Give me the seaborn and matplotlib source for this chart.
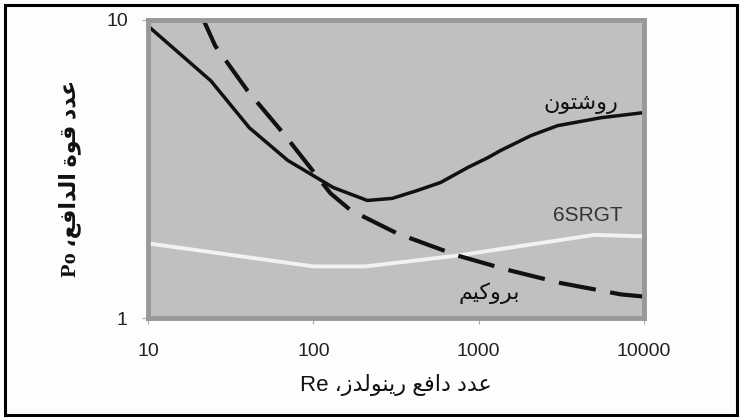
import pandas as pd
import matplotlib.pyplot as plt
import matplotlib.patches as patches
import seaborn as sns

# Power number vs Reynolds number for three impellers
rushton_re = [10, 24, 41, 70, 132, 212, 300, 427, 589, 860, 1135, 1360, 2065, 3000, 5500, 10000]
rushton_po = [9.55, 6.25, 4.35, 3.38, 2.74, 2.48, 2.52, 2.68, 2.85, 3.2, 3.45, 3.65, 4.09, 4.42, 4.70, 4.89]

brookim_re = [21, 25.5, 40, 66, 127, 168, 323, 746, 1500, 3140, 7260, 10000]
brookim_po = [10.4, 8.19, 5.79, 4.16, 2.62, 2.30, 1.92, 1.62, 1.45, 1.31, 1.20, 1.18]

srgt_re = [10, 100, 207, 746, 4980, 10000]
srgt_po = [1.78, 1.49, 1.49, 1.62, 1.90, 1.88]

x_ticks = [10, 100, 1000, 10000]
y_ticks = [1, 10]

label_rushton = "روشتون"
label_brookim = "بروكيم"
label_srgt = "6SRGT"
x_title_ar = "عدد دافع رينولدز،"
y_title_ar = "عدد قوة الدافع،"

# matplotlib has no Arabic shaping, so pick presentation forms by hand
# (isolated, final, initial, medial)
FORMS = {
    'ا': ('\uFE8D', '\uFE8E', None, None),
    'ب': ('\uFE8F', '\uFE90', '\uFE91', '\uFE92'),
    'ة': ('\uFE93', '\uFE94', None, None),
    'ت': ('\uFE95', '\uFE96', '\uFE97', '\uFE98'),
    'د': ('\uFEA9', '\uFEAA', None, None),
    'ر': ('\uFEAD', '\uFEAE', None, None),
    'ز': ('\uFEAF', '\uFEB0', None, None),
    'ش': ('\uFEB5', '\uFEB6', '\uFEB7', '\uFEB8'),
    'ع': ('\uFEC9', '\uFECA', '\uFECB', '\uFECC'),
    'ف': ('\uFED1', '\uFED2', '\uFED3', '\uFED4'),
    'ق': ('\uFED5', '\uFED6', '\uFED7', '\uFED8'),
    'ك': ('\uFED9', '\uFEDA', '\uFEDB', '\uFEDC'),
    'ل': ('\uFEDD', '\uFEDE', '\uFEDF', '\uFEE0'),
    'م': ('\uFEE1', '\uFEE2', '\uFEE3', '\uFEE4'),
    'ن': ('\uFEE5', '\uFEE6', '\uFEE7', '\uFEE8'),
    'و': ('\uFEED', '\uFEEE', None, None),
    'ي': ('\uFEF1', '\uFEF2', '\uFEF3', '\uFEF4'),
}


def shape(text):
    out = []
    for i, ch in enumerate(text):
        f = FORMS.get(ch)
        if f is None:
            out.append(ch)
            continue
        prev = FORMS.get(text[i - 1]) if i > 0 else None
        join_prev = prev is not None and prev[2] is not None
        join_next = i + 1 < len(text) and text[i + 1] in FORMS and f[2] is not None
        if join_prev and join_next:
            out.append(f[3])
        elif join_prev:
            out.append(f[1])
        elif join_next:
            out.append(f[2])
        else:
            out.append(f[0])
    return ''.join(reversed(out))


sns.set_theme(style="white")
plt.rcParams['font.family'] = ['Liberation Sans', 'DejaVu Sans']

fig = plt.figure(figsize=(7.42, 4.19), dpi=100)
fig.patch.set_facecolor('#fdfdfd')
ax = fig.add_axes([148 / 742, 1 - 318 / 419, 496 / 742, 298 / 419])
ax.set_facecolor('#c0c0c0')

df_r = pd.DataFrame({'Re': rushton_re, 'Po': rushton_po})
df_b = pd.DataFrame({'Re': brookim_re, 'Po': brookim_po})
df_s = pd.DataFrame({'Re': srgt_re, 'Po': srgt_po})

sns.lineplot(data=df_s, x='Re', y='Po', ax=ax, color='#f2f2f2', lw=2.8)
sns.lineplot(data=df_r, x='Re', y='Po', ax=ax, color='#111111', lw=2.5)
sns.lineplot(data=df_b, x='Re', y='Po', ax=ax, color='#111111', lw=3.0,
             linestyle=(0, (9, 3.5)))

ax.set_xscale('log')
ax.set_yscale('log')
ax.set_xlim(10, 10000)
ax.set_ylim(1, 10)
ax.set_xticks(x_ticks)
ax.set_xticklabels([str(v) for v in x_ticks])
ax.set_yticks(y_ticks)
ax.set_yticklabels([str(v) for v in y_ticks])
ax.minorticks_off()
ax.tick_params(axis='x', bottom=True, length=4, width=0.8, color='#aaaaaa',
               pad=14, labelsize=14, labelcolor='#222222')
ax.tick_params(axis='y', left=True, length=4, width=0.8, color='#aaaaaa',
               pad=10.5, labelsize=14, labelcolor='#222222')
for s in ax.spines.values():
    s.set_color('#999999')
    s.set_linewidth(3.5)

ax.set_xlabel('Re ' + shape(x_title_ar), fontsize=16, color='#111111', labelpad=10)
ax.set_ylabel('Po ' + shape(y_title_ar), fontsize=16, fontweight='bold',
              family=['Liberation Serif', 'DejaVu Sans'], color='#111111')
ax.yaxis.set_label_coords(-0.135, 0.47)

ax.text(4150, 5.24, shape(label_rushton), fontsize=16, ha='center', va='center',
        color='#111111')
ax.text(1150, 1.21, shape(label_brookim), fontsize=16, ha='center', va='center',
        color='#111111')
ax.text(4570, 2.21, label_srgt, fontsize=15, ha='center', va='center',
        color='#333333')

# black frame around the whole figure
fig.patches.append(patches.Rectangle((5 / 742, 4 / 419), 732 / 742, 410 / 419,
                                     transform=fig.transFigure, fill=False,
                                     edgecolor='black', lw=2.2))

plt.savefig('out.png', dpi=100)
